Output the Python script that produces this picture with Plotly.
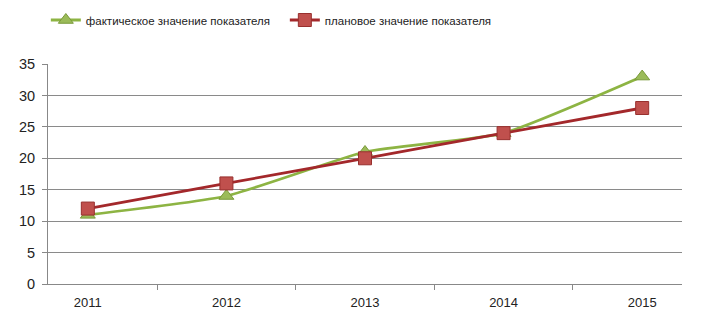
import plotly.graph_objects as go

years = ["2011", "2012", "2013", "2014", "2015"]
actual = [11, 14, 21, 24, 33]
planned = [12, 16, 20, 24, 28]
name_actual = "фактическое значение показателя"
name_planned = "плановое значение показателя"
y_ticks = [0, 5, 10, 15, 20, 25, 30, 35]

fig = go.Figure()
fig.add_trace(go.Scatter(
    x=years, y=actual, name=name_actual, mode="lines+markers",
    line=dict(color="#8DB443", width=2.8, shape="spline", smoothing=0.5),
    marker=dict(symbol="triangle-up", size=13, color="#9BBB59",
                line=dict(color="#7A9A3A", width=1)),
))
fig.add_trace(go.Scatter(
    x=years, y=planned, name=name_planned, mode="lines+markers",
    line=dict(color="#A3282B", width=2.8, shape="spline", smoothing=0.5),
    marker=dict(symbol="square", size=13, color="#C0504D",
                line=dict(color="#98302E", width=1)),
))

font = "Liberation Sans"
fig.update_layout(
    width=714, height=326,
    margin=dict(l=40, r=40, t=56, b=50, autoexpand=False),
    paper_bgcolor="white", plot_bgcolor="white",
    font=dict(family=font, size=13, color="#222222"),
    legend=dict(orientation="h", xref="container", yref="container",
                x=0.053, xanchor="left", y=1 - 12 / 326, yanchor="middle",
                font=dict(size=11.5), itemwidth=30,
                entrywidth=194, entrywidthmode="pixels"),
    showlegend=True,
)
fig.update_xaxes(
    type="category", showline=True, linecolor="#888888", linewidth=1,
    ticks="outside", tickson="boundaries", ticklen=5, tickcolor="#888888",
    showgrid=False, tickfont=dict(size=13), ticklabelstandoff=6,
    automargin=False,
)
fig.update_yaxes(
    range=[0, 35], tickvals=y_ticks, showline=True, linecolor="#888888",
    linewidth=1, ticks="outside", ticklen=5, tickcolor="#888888",
    showgrid=True, gridcolor="#8A8A8A", gridwidth=1, zeroline=False,
    tickfont=dict(size=14.5), automargin=False, ticklabelstandoff=4,
)
fig.write_html("out.html")
